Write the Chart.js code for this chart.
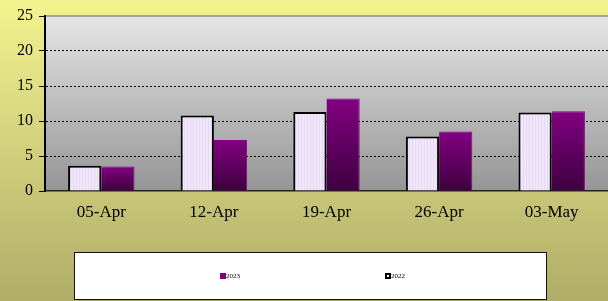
<!DOCTYPE html>
<html>
<head>
<meta charset="utf-8">
<script src="https://cdn.jsdelivr.net/npm/chart.js@4/dist/chart.umd.min.js"></script>
<style>
  html, body { margin: 0; padding: 0; }
  #wrap { width: 608px; height: 301px; }
</style>
</head>
<body>
<div id="wrap"><canvas id="chart"></canvas></div>
<script>
const weeks = ['05-Apr', '12-Apr', '19-Apr', '26-Apr', '03-May'];
const values2022 = [3.6, 10.8, 11.3, 7.8, 11.2];
const values2023 = [3.5, 7.3, 13.2, 8.5, 11.4];
const yTicks = [0, 5, 10, 15, 20, 25];

// light lavender fill with faint stripes, like the original
function lavenderPattern() {
    const c = document.createElement('canvas');
    c.width = 6; c.height = 6;
    const g = c.getContext('2d');
    g.fillStyle = '#f1e6fb';
    g.fillRect(0, 0, 6, 6);
    g.fillStyle = '#e6d9f2';
    g.fillRect(1, 0, 1, 6);
    g.fillRect(4, 0, 1, 6);
    return g.createPattern(c, 'repeat');
}

// per bar purple gradient
function purpleFill(ctx) {
    const chart = ctx.chart;
    if (!chart.chartArea || !chart.scales.y) return '#700070';
    const y = chart.scales.y;
    const top = y.getPixelForValue(ctx.raw);
    const bottom = y.getPixelForValue(0);
    if (!isFinite(top) || top === bottom) return '#700070';
    const grad = chart.ctx.createLinearGradient(0, top, 0, bottom);
    grad.addColorStop(0, '#820082');
    grad.addColorStop(1, '#3e003f');
    return grad;
}

const backdrop = {
    id: 'backdrop',
    beforeDraw(chart) {
        const { ctx, width, height, chartArea: a } = chart;
        ctx.save();
        let g = ctx.createLinearGradient(0, 0, 0, height);
        g.addColorStop(0, '#f3f38f');
        g.addColorStop(1, '#afac68');
        ctx.fillStyle = g;
        ctx.fillRect(0, 0, width, height);

        g = ctx.createLinearGradient(0, a.top, 0, a.bottom);
        g.addColorStop(0, '#e5e5e5');
        g.addColorStop(1, '#959595');
        ctx.fillStyle = g;
        ctx.fillRect(a.left, a.top, a.right - a.left, a.bottom - a.top);

        ctx.strokeStyle = '#8c8c8c';
        ctx.lineWidth = 1.5;
        ctx.beginPath();
        ctx.moveTo(a.left, a.top);
        ctx.lineTo(a.right, a.top);
        ctx.stroke();

        // legend frame
        ctx.fillStyle = '#ffffff';
        ctx.fillRect(74, 252, 473, 48);
        ctx.strokeStyle = '#111';
        ctx.lineWidth = 1;
        ctx.strokeRect(74.5, 252.5, 472, 47);
        ctx.restore();
    },
    afterDraw(chart) {
        // legend items, 2023 first
        const ctx = chart.ctx;
        const ds = chart.data.datasets;
        const items = [
            { label: ds[1].label, x: 220, fill: '#800080', edge: '#800080' },
            { label: ds[0].label, x: 385, fill: '#ffffff', edge: '#000000' }
        ];
        ctx.save();
        ctx.font = '7px "Liberation Serif"';
        ctx.textBaseline = 'middle';
        items.forEach(it => {
            ctx.fillStyle = it.edge;
            ctx.fillRect(it.x, 273, 6, 6);
            if (it.fill !== it.edge) {
                ctx.fillStyle = it.fill;
                ctx.fillRect(it.x + 2, 275, 2, 2);
            }
            ctx.fillStyle = '#000';
            ctx.fillText(it.label, it.x + 6, 276.5);
        });
        ctx.restore();
    }
};

const ctx = document.getElementById('chart');
new Chart(ctx, {
    type: 'bar',
    data: {
        labels: weeks,
        datasets: [
            {
                label: '2022',
                data: values2022,
                backgroundColor: lavenderPattern(),
                borderColor: '#000',
                borderWidth: 2
            },
            {
                label: '2023',
                data: values2023,
                backgroundColor: purpleFill,
                borderColor: '#8c008c',
                borderWidth: { top: 1, right: 1, left: 0, bottom: 0 }
            }
        ]
    },
    options: {
        responsive: true,
        maintainAspectRatio: false,
        animation: false,
        layout: { padding: { top: 16, right: 0, left: 0, bottom: 70 } },
        datasets: { bar: { categoryPercentage: 0.59, barPercentage: 1.0 } },
        plugins: {
            legend: { display: false },
            tooltip: { enabled: false }
        },
        scales: {
            x: {
                grid: { display: false },
                border: { color: '#222', width: 1.5 },
                ticks: {
                    color: '#000',
                    padding: 3,
                    font: { family: 'Liberation Serif', size: 17 }
                },
                afterFit(scale) { scale.height = 40; }
            },
            y: {
                min: 0,
                max: 25,
                afterBuildTicks(scale) { scale.ticks = yTicks.map(v => ({ value: v })); },
                grid: {
                    color: c => (c.tick && (c.tick.value === 0 || c.tick.value === 25)) ? 'rgba(0,0,0,0)' : '#000',
                    lineWidth: 1,
                    tickColor: '#000',
                    tickLength: 6,
                    tickBorderDash: []
                },
                border: { color: '#000', width: 2, dash: [2, 2] },
                ticks: {
                    color: '#000',
                    padding: 6,
                    font: { family: 'Liberation Serif', size: 16 }
                },
                afterFit(scale) { scale.width = 45; }
            }
        }
    },
    plugins: [backdrop]
});
</script>
</body>
</html>
